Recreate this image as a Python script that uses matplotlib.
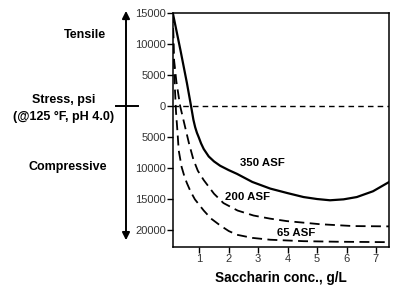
import matplotlib.pyplot as plt
from matplotlib.patches import FancyArrowPatch
import matplotlib.lines as mlines

plt.rcParams['font.family'] = ['Liberation Sans', 'DejaVu Sans']

# saccharin conc. (g/L) vs stress (psi), tensile positive, compressive negative
x_350 = [0.10, 0.36, 0.58, 0.72, 0.80, 0.86, 0.92, 0.98, 1.06, 1.15, 1.32,
         1.50, 1.71, 2.00, 2.28, 2.80, 3.41, 4.00, 4.54, 5.00, 5.44, 5.90,
         6.35, 6.90, 7.45]
s_350 = [15000, 9000, 3700, 0, -2200, -3400, -4300, -5000, -6000, -6900,
         -8100, -8900, -9600, -10300, -10900, -12200, -13270, -14000,
         -14630, -14950, -15150, -15000, -14630, -13700, -12200]

x_200 = [0.10, 0.13, 0.22, 0.35, 0.50, 0.65, 0.80, 0.95, 1.15, 1.50, 1.82,
         2.30, 2.84, 3.40, 3.97, 5.10, 6.23, 7.45]
s_200 = [15000, 8000, 4000, 0, -3000, -6000, -8600, -10400, -11900, -14100,
         -15600, -16800, -17600, -18100, -18500, -19000, -19300, -19350]

x_65 = [0.10, 0.13, 0.17, 0.21, 0.26, 0.30, 0.40, 0.50, 0.58, 0.70, 0.85,
        1.15, 1.40, 1.71, 2.00, 2.28, 2.80, 3.41, 4.54, 5.67, 7.45]
s_65 = [15000, 9000, 3000, -1000, -4200, -7100, -9800, -11400, -12400,
        -13700, -15000, -16800, -18100, -19200, -20100, -20700, -21200,
        -21500, -21730, -21820, -21890]

y_ticks = [15000, 10000, 5000, 0, -5000, -10000, -15000, -20000]
x_ticks = [1, 2, 3, 4, 5, 6, 7]

fig = plt.figure(figsize=(4, 3), dpi=100)
ax = fig.add_axes([0.432, 0.176, 0.541, 0.781])

ax.plot(x_350, s_350, color='black', linewidth=1.6, solid_joinstyle='round')
ax.plot(x_200, s_200, color='black', linewidth=1.3, dashes=(5.5, 3))
ax.plot(x_65, s_65, color='black', linewidth=1.3, dashes=(5.5, 3))
ax.axhline(0, color='black', linewidth=1.0, dashes=(4, 3))

ax.set_xlim(0.1, 7.45)
ax.set_ylim(-22700, 15000)
ax.set_xticks(x_ticks)
ax.set_yticks(y_ticks)
ax.set_yticklabels([str(abs(v)) for v in y_ticks])
ax.tick_params(axis='both', direction='out', length=4, width=1,
               labelsize=8, labelcolor='#333333', pad=1)
for sp in ax.spines.values():
    sp.set_linewidth(1.1)

ax.set_xlabel('Saccharin conc., g/L', fontsize=9.8, fontweight='bold',
              labelpad=5)

ax.text(3.15, -9200, '350 ASF', ha='center', va='center', fontsize=8.2,
        fontweight='bold')
ax.text(2.63, -14630, '200 ASF', ha='center', va='center', fontsize=8.2,
        fontweight='bold')
ax.text(4.28, -20430, '65 ASF', ha='center', va='center', fontsize=8.2,
        fontweight='bold')

# left-hand stress arrow
arrow = FancyArrowPatch((0.315, 0.190), (0.315, 0.973), transform=fig.transFigure,
                        arrowstyle='<|-|>', mutation_scale=11, linewidth=1.4,
                        color='black')
fig.add_artist(arrow)
fig.add_artist(mlines.Line2D([0.29, 0.345], [0.6467, 0.6467],
                             transform=fig.transFigure, color='black',
                             linewidth=1.4))

fig.text(0.2125, 0.883, 'Tensile', ha='center', va='center', fontsize=9,
         fontweight='bold')
fig.text(0.159, 0.667, 'Stress, psi', ha='center', va='center', fontsize=9,
         fontweight='bold')
fig.text(0.159, 0.61, '(@125 °F, pH 4.0)', ha='center', va='center',
         fontsize=9, fontweight='bold')
fig.text(0.17, 0.443, 'Compressive', ha='center', va='center', fontsize=9,
         fontweight='bold')

fig.savefig('out.png', dpi=100, facecolor='white')
